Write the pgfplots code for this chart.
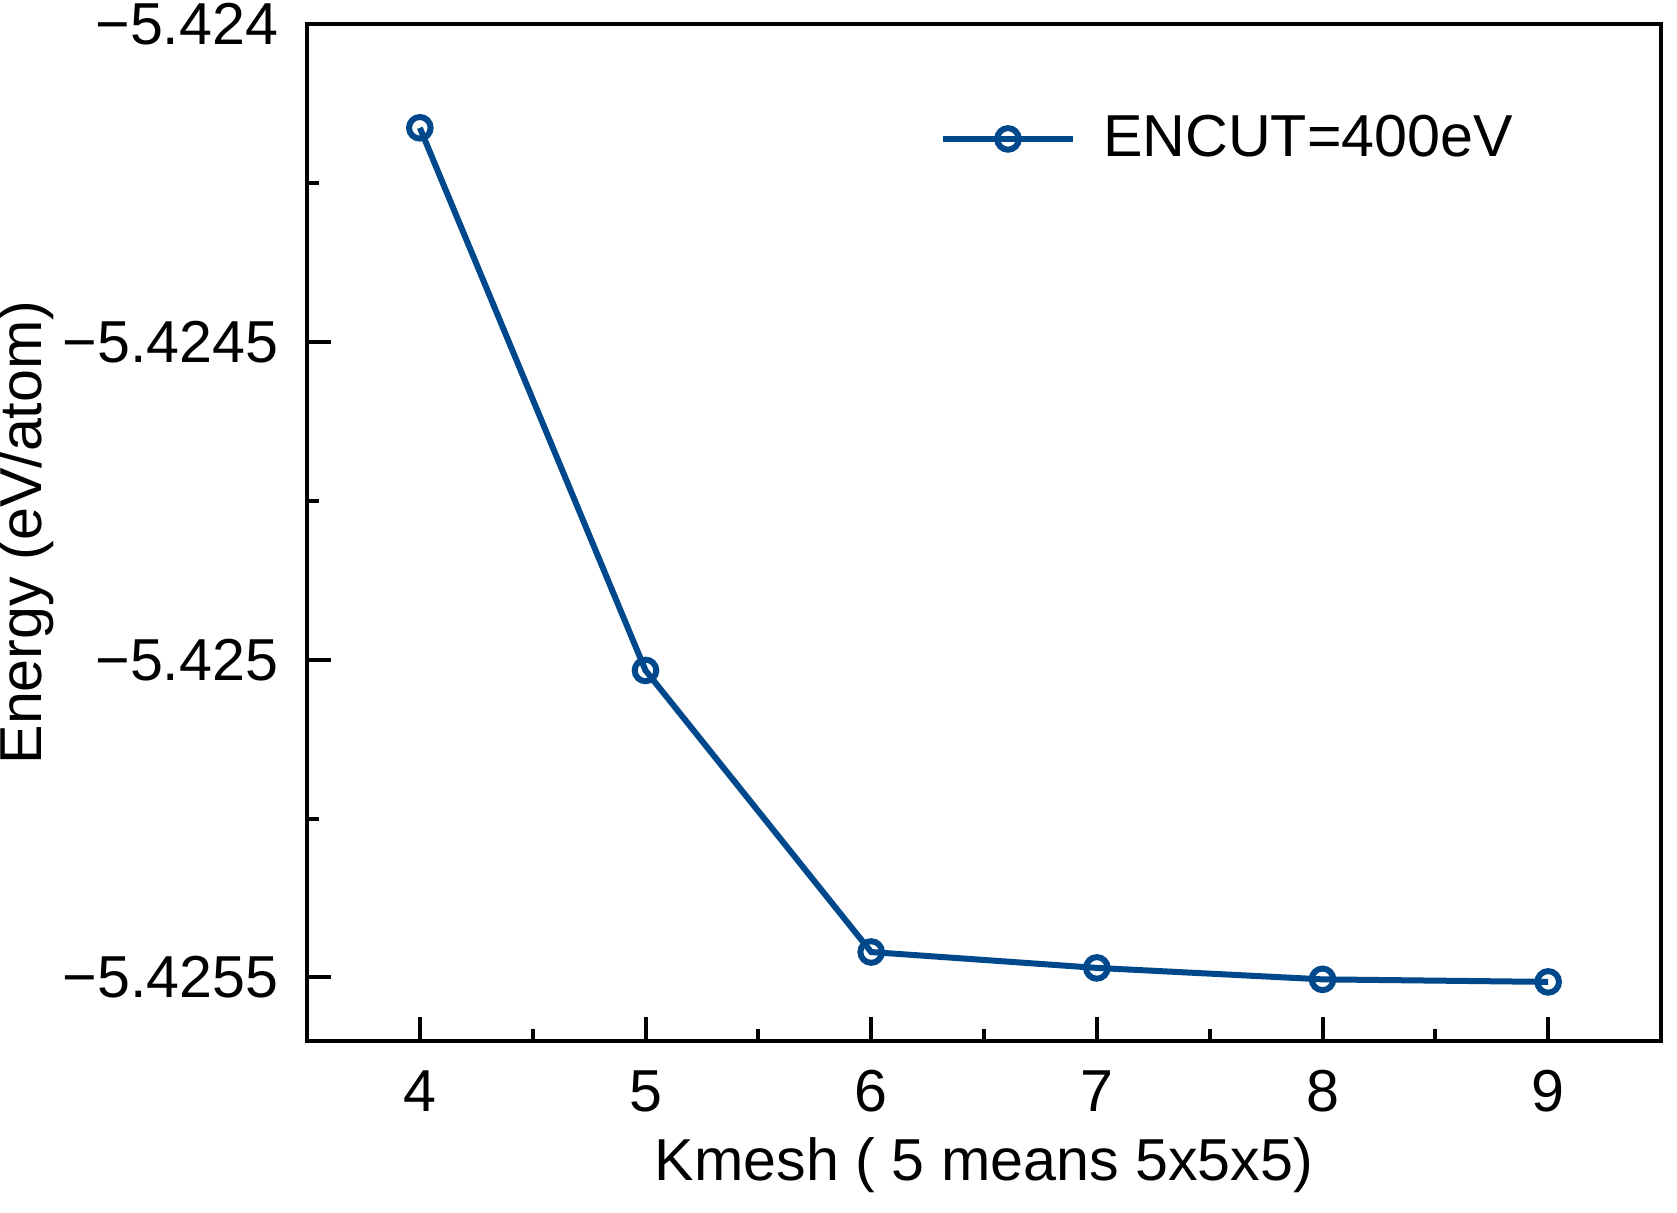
\documentclass[border=0pt]{standalone}
\usepackage{pgfplots}
\pgfplotsset{compat=1.18}
\usepackage{pgfplotstable}
\usepackage{fontspec}
\setmainfont{Liberation Sans}
\definecolor{lineblue}{RGB}{0,72,140}
\pgfplotstableread{
k E
4 -5.4241633
5 -5.4250170
6 -5.4254600
7 -5.4254850
8 -5.4255030
9 -5.4255070
}\datatable
\begin{document}
\fontsize{14.8}{17}\selectfont
\begin{tikzpicture}
\useasboundingbox (-76.75pt,-42.75pt) rectangle (342.5pt,260.25pt);
\begin{axis}[
  at={(0,0)}, anchor=south west,
  scale only axis, width=338.5pt, height=254.25pt,
  xmin=3.5, xmax=9.5, ymin=-5.4256, ymax=-5.424,
  xtick={4,5,6,7,8,9}, minor x tick num=1,
  ytick={-5.4255,-5.425,-5.4245,-5.424},
  yticklabels={−5.4255,−5.425,−5.4245,−5.424},
  minor y tick num=1,
  tick align=inside, xtick pos=left, ytick pos=left,
  major tick length=6pt, minor tick length=3pt,
  axis line style={line width=1pt},
  every tick/.style={black, line width=1pt},
  /pgf/number format/assume math mode=true,
  tick label style={font=\fontsize{14.8}{17}\selectfont},
  xticklabel style={anchor=center, inner sep=0pt, yshift=-12.5pt},
  yticklabel style={anchor=east, inner sep=0pt, xshift=-7pt},
  xlabel={Kmesh ( 5 means 5x5x5)},
  ylabel={Energy (eV/atom)},
  label style={font=\fontsize{14.8}{17}\selectfont},
  xlabel style={at={([yshift=-31pt]axis description cs:0.5,0)}, anchor=center, inner sep=0pt},
  ylabel style={at={([xshift=-70.3pt]axis description cs:0,0.5)}, anchor=center, inner sep=0pt},
  legend style={at={(0.4675,0.887)}, anchor=west, draw=none, fill=none,
    inner sep=0pt, outer sep=0pt, font=\fontsize{14.8}{17}\selectfont,
    cells={anchor=west}},
  legend image code/.code={
    \draw[mark repeat=2, mark phase=2, #1] plot coordinates {(0pt,0pt) (16.25pt,0pt) (32.5pt,0pt)};
  },
]
\addplot[color=lineblue, line width=1.5pt, mark=o, mark size=2.7pt,
  mark options={line width=1.5pt, fill=none}] table[x=k, y=E] {\datatable};
\addlegendentry{\hspace{4.8pt}\raisebox{-0.9pt}{ENCUT=400eV}}
\end{axis}
\end{tikzpicture}
\end{document}
